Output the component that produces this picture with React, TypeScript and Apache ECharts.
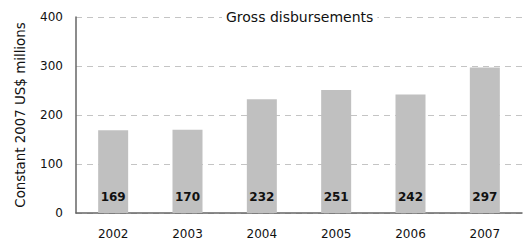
import React, { useEffect, useRef } from "react";
import * as echarts from "echarts";

const categories = ["2002", "2003", "2004", "2005", "2006", "2007"];
const values = [169, 170, 232, 251, 242, 297];
const titleText = "Gross disbursements";
const yAxisName = "Constant 2007 US$ millions";

export default function App() {
  const ref = useRef<HTMLDivElement>(null);
  useEffect(() => {
    if (!ref.current) return;
    const chart = echarts.init(ref.current, null, { renderer: "svg" });
    const font = "'DejaVu Sans', sans-serif";
    chart.setOption({
      animation: false,
      grid: { left: 76, right: 3, top: 17, bottom: 30 },
      graphic: [
        {
          type: "text",
          left: 222,
          top: 10,
          style: {
            text: titleText,
            fontFamily: font,
            fontSize: 14,
            fill: "#111",
            backgroundColor: "#fff",
            padding: [0, 4],
          },
          z: 100,
        },
      ],
      xAxis: {
        type: "category",
        data: categories,
        axisLine: { lineStyle: { color: "#666", width: 1.5 } },
        axisTick: { show: false },
        axisLabel: { color: "#111", fontSize: 12, fontFamily: font, margin: 15 },
      },
      yAxis: {
        type: "value",
        min: 0,
        max: 400,
        interval: 100,
        name: yAxisName,
        nameLocation: "middle",
        nameGap: 49,
        nameTextStyle: { color: "#111", fontSize: 13.4, fontFamily: font },
        axisLine: { show: true, lineStyle: { color: "#666", width: 1.5 } },
        axisTick: { show: false },
        axisLabel: { color: "#111", fontSize: 12, fontFamily: font, margin: 13 },
        splitLine: { lineStyle: { color: "#c4c4c4", type: [6, 5] } },
      },
      series: [
        {
          type: "bar",
          data: values,
          barWidth: 30,
          itemStyle: { color: "#c0c0c0" },
          label: {
            show: true,
            position: "insideBottom",
            distance: 10,
            color: "#111",
            fontWeight: "bold",
            fontSize: 12,
            fontFamily: font,
          },
        },
      ],
    });
    return () => chart.dispose();
  }, []);
  return <div ref={ref} style={{ width: 525, height: 243, position: "absolute", left: 0, top: 0 }} />;
}
